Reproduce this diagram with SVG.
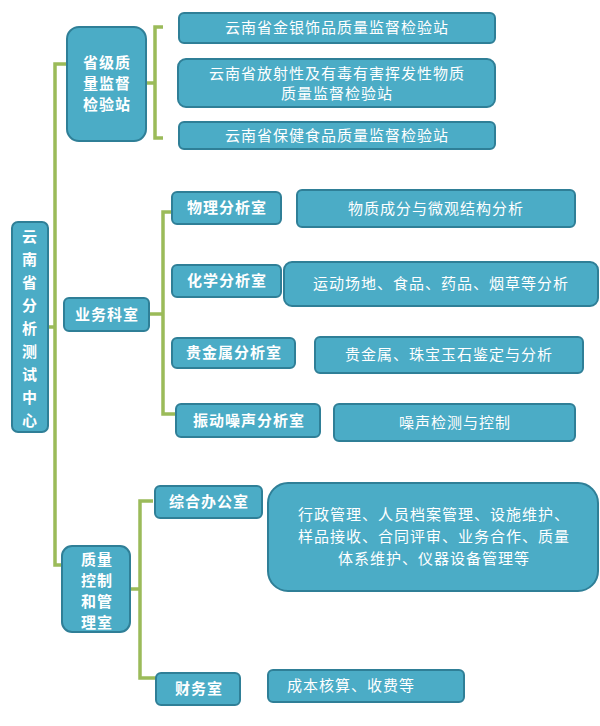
<svg xmlns="http://www.w3.org/2000/svg" width="600" height="726" viewBox="0 0 600 726">
<style>
.b{fill:#4bacc6;stroke:#2f7f97;stroke-width:2}
.t{fill:#fff;font-family:"Noto Sans CJK SC","Noto Sans CJK JP",sans-serif;font-size:15px;text-anchor:middle;letter-spacing:1px}
.h{font-weight:bold}
.c{fill:none;stroke:#9bbb59;stroke-width:3.5}
</style>
<g id="connectors">
<path class="c" d="M67 64H55V565H62M48 327H55"/>
<path class="c" d="M163 27H155V138H163M146 83H155"/>
<path class="c" d="M172 212H163V414H176M149 314H163"/>
<path class="c" d="M153 501H140V678H156M130 589H140"/>
</g>
<g id="root"><rect class="b" x="12" y="222" width="36" height="210" rx="6"/>
<text class="t h" x="30" y="242">云</text><text class="t h" x="30" y="265">南</text><text class="t h" x="30" y="288">省</text><text class="t h" x="30" y="311">分</text><text class="t h" x="30" y="334">析</text><text class="t h" x="30" y="357">测</text><text class="t h" x="30" y="380">试</text><text class="t h" x="30" y="403">中</text><text class="t h" x="30" y="426">心</text></g>
<g id="n1"><rect class="b" x="67" y="27" width="79" height="114" rx="12"/><text class="t h" x="107" y="68">省级质</text><text class="t h" x="107" y="89">量监督</text><text class="t h" x="107" y="110">检验站</text></g>
<g id="n1a"><rect class="b" x="179" y="13" width="316" height="30" rx="5"/><text class="t" x="337" y="33">云南省金银饰品质量监督检验站</text></g>
<g id="n1b"><rect class="b" x="178" y="59" width="317" height="48" rx="8"/><text class="t" x="337" y="79">云南省放射性及有毒有害挥发性物质</text><text class="t" x="337" y="99">质量监督检验站</text></g>
<g id="n1c"><rect class="b" x="179" y="122" width="316" height="27" rx="5"/><text class="t" x="337" y="141">云南省保健食品质量监督检验站</text></g>
<g id="n2"><rect class="b" x="64" y="298" width="85" height="33" rx="5"/><text class="t h" x="107" y="320">业务科室</text></g>
<g id="n2a"><rect class="b" x="172" y="192" width="109" height="32" rx="5"/><text class="t h" x="227" y="213">物理分析室</text></g>
<g id="n2ad"><rect class="b" x="297" y="190" width="278" height="37" rx="5"/><text class="t" x="436" y="214">物质成分与微观结构分析</text></g>
<g id="n2b"><rect class="b" x="172" y="265" width="109" height="32" rx="5"/><text class="t h" x="227" y="286">化学分析室</text></g>
<g id="n2bd"><rect class="b" x="284" y="262" width="314" height="44" rx="8"/><text class="t" x="441" y="289">运动场地、食品、药品、烟草等分析</text></g>
<g id="n2c"><rect class="b" x="172" y="338" width="123" height="30" rx="5"/><text class="t h" x="234" y="358">贵金属分析室</text></g>
<g id="n2cd"><rect class="b" x="315" y="337" width="268" height="36" rx="5"/><text class="t" x="449" y="360">贵金属、珠宝玉石鉴定与分析</text></g>
<g id="n2d"><rect class="b" x="176" y="404" width="144" height="33" rx="5"/><text class="t h" x="249" y="426">振动噪声分析室</text></g>
<g id="n2dd"><rect class="b" x="334" y="404" width="241" height="37" rx="5"/><text class="t" x="455" y="428">噪声检测与控制</text></g>
<g id="n3"><rect class="b" x="62" y="546" width="68" height="86" rx="10"/><text class="t h" x="97" y="565">质量</text><text class="t h" x="97" y="586">控制</text><text class="t h" x="97" y="607">和管</text><text class="t h" x="97" y="628">理室</text></g>
<g id="n3a"><rect class="b" x="155" y="486" width="107" height="32" rx="5"/><text class="t h" x="209" y="507">综合办公室</text></g>
<g id="n3ad"><rect class="b" x="268" y="483" width="330" height="108" rx="20"/><text class="t" x="434" y="520">行政管理、人员档案管理、设施维护、</text><text class="t" x="434" y="542">样品接收、合同评审、业务合作、质量</text><text class="t" x="434" y="564">体系维护、仪器设备管理等</text></g>
<g id="n3b"><rect class="b" x="156" y="673" width="84" height="32" rx="5"/><text class="t h" x="199" y="694">财务室</text></g>
<g id="n3bd"><rect class="b" x="268" y="670" width="196" height="32" rx="5"/><text class="t" x="351" y="691">成本核算、收费等</text></g>
</svg>
